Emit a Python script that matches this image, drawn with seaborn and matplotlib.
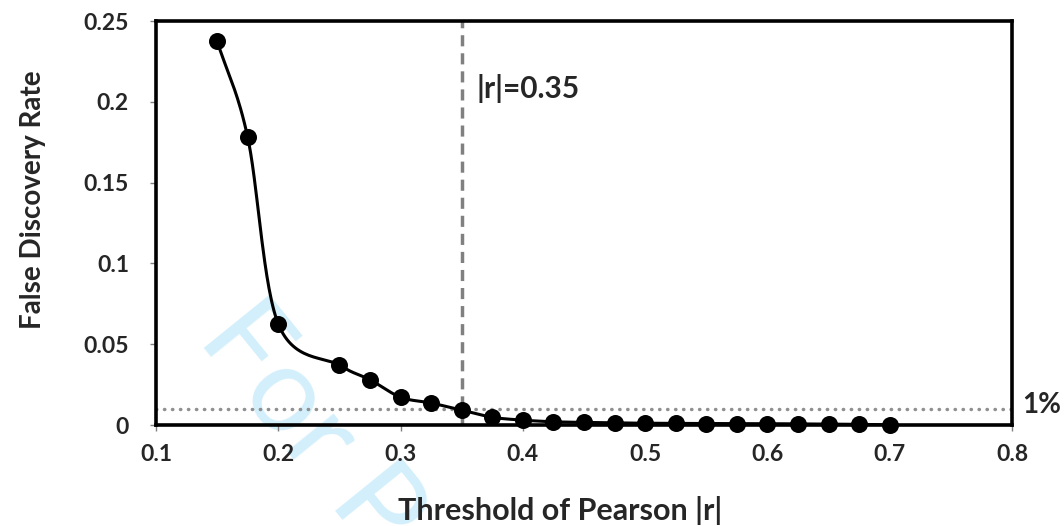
import numpy as np
import pandas as pd
import matplotlib
matplotlib.use("Agg")
import matplotlib.pyplot as plt
import seaborn as sns

thresholds = [0.15, 0.175, 0.2, 0.25, 0.275, 0.3, 0.325, 0.35, 0.375, 0.4, 0.425,
              0.45, 0.475, 0.5, 0.525, 0.55, 0.575, 0.6, 0.625, 0.65, 0.675, 0.7]
fdr = [0.2375, 0.178, 0.0625, 0.037, 0.028, 0.0172, 0.0136, 0.0092, 0.0048, 0.003, 0.002,
       0.0016, 0.0013, 0.0011, 0.0010, 0.0009, 0.0008, 0.0008, 0.0007, 0.0006, 0.0004, 0.0001]
x_ticks = [0.1, 0.2, 0.3, 0.4, 0.5, 0.6, 0.7, 0.8]
y_ticks = [0, 0.05, 0.1, 0.15, 0.2, 0.25]
y_tick_labels = ["0", "0.05", "0.1", "0.15", "0.2", "0.25"]
r_cut = 0.35
fdr_cut = 0.01

sns.set_theme(style="white")
plt.rcParams['font.family'] = ['Lato', 'DejaVu Sans']

def catmull_rom(xs, ys, n=30):
    xs = np.asarray(xs, float); ys = np.asarray(ys, float)
    P = np.column_stack([xs, ys])
    P = np.vstack([2 * P[0] - P[1], P, 2 * P[-1] - P[-2]])
    out = []
    t = np.linspace(0, 1, n, endpoint=False)[:, None]
    for i in range(1, len(P) - 2):
        p0, p1, p2, p3 = P[i - 1], P[i], P[i + 1], P[i + 2]
        seg = 0.5 * ((2 * p1) + (-p0 + p2) * t + (2 * p0 - 5 * p1 + 4 * p2 - p3) * t ** 2
                     + (-p0 + 3 * p1 - 3 * p2 + p3) * t ** 3)
        out.append(seg)
    out.append(P[-2][None, :])
    out = np.vstack(out)
    return out[:, 0], out[:, 1]

sx, sy = catmull_rom(thresholds, fdr)
smooth = pd.DataFrame({"x": sx, "y": sy})
pts = pd.DataFrame({"x": thresholds, "y": fdr})

fig = plt.figure(figsize=(10.64, 5.26), dpi=100)
ax = fig.add_axes([156 / 1064, 101 / 526, (1012 - 156) / 1064, (425 - 21) / 526])
ax.patch.set_alpha(0)

ax.text(196 / 1064, 1 - 339 / 526, "For Peer Review", transform=fig.transFigure,
        rotation=-51, rotation_mode="anchor", ha="left", va="baseline", fontsize=86,
        color="#d2effb", fontweight="normal", zorder=0.5, clip_on=False)

ax.axvline(r_cut, color="#808080", lw=2.5, dashes=(3.2, 2.0), zorder=2)
ax.axhline(fdr_cut, color="#909090", lw=2.5, linestyle=(0, (0.1, 2.2)),
           dash_capstyle="round", zorder=2, clip_on=False)

sns.lineplot(data=smooth, x="x", y="y", ax=ax, color="black", lw=2.2, sort=False,
             estimator=None, zorder=3)
sns.scatterplot(data=pts, x="x", y="y", ax=ax, color="black", s=150, edgecolor="black",
                linewidth=0, zorder=4, clip_on=False)

ax.set_xlim(0.1, 0.8)
ax.set_ylim(0, 0.25)
ax.set_xticks(x_ticks)
ax.set_xticklabels([f"{v:g}" for v in x_ticks])
ax.set_yticks(y_ticks)
ax.set_yticklabels(y_tick_labels)
ax.tick_params(axis="both", which="major", direction="out", length=4.5, width=1,
               color="#808080", labelsize=16.5, bottom=True, left=True)
ax.tick_params(axis="y", pad=15)
ax.tick_params(axis="x", pad=9)
for lab in ax.get_xticklabels() + ax.get_yticklabels():
    lab.set_fontweight("bold")

for side, sp in ax.spines.items():
    sp.set_visible(True)
    sp.set_color("black")
    sp.set_linewidth(2.6)
    sp.set_zorder(5)

ax.set_xlabel("Threshold of Pearson |r|", fontsize=22, fontweight="bold")
ax.set_ylabel("False Discovery Rate", fontsize=20, fontweight="bold")
ax.xaxis.set_label_coords((560 - 156) / 856, (425 - 496) / 404)
ax.yaxis.set_label_coords((46 - 156) / 856, (425 - 200) / 404)

ax.text(0.3617, 0.2085, "|r|=0.35", fontsize=21.5, fontweight="bold", ha="left", va="center")
ax.text(0.808, 0.0125, "1%", fontsize=20, fontweight="bold", ha="left", va="center",
        clip_on=False)

fig.savefig("out.png", dpi=100)
